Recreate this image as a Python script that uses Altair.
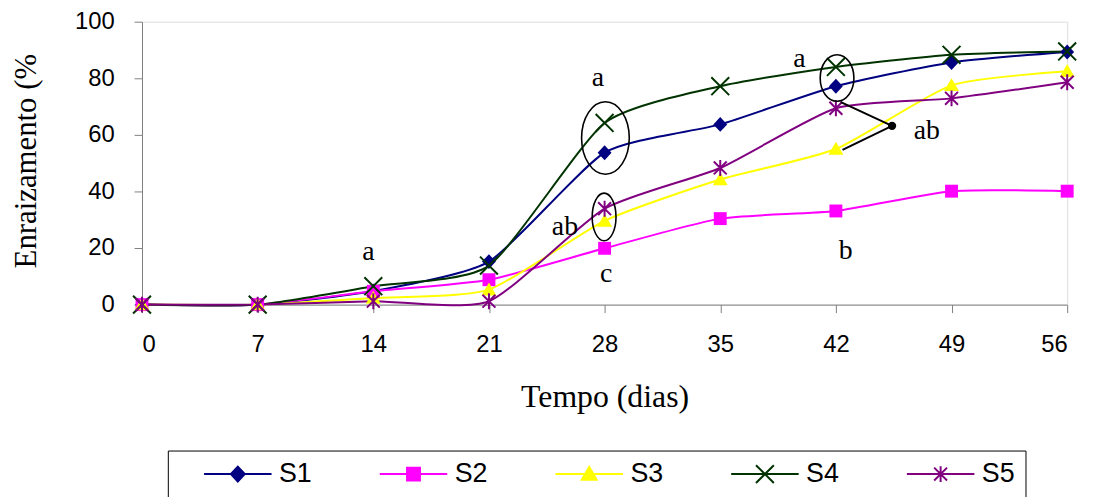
import altair as alt
import pandas as pd

# ---------------- data ----------------
days = [0, 7, 14, 21, 28, 35, 42, 49, 56]
series = ["S1", "S2", "S3", "S4", "S5"]
s1 = [0, 0, 4.8, 15.2, 53.7, 63.7, 77.2, 85.6, 89.3]
s2 = [0, 0, 4.7, 8.8, 19.9, 30.4, 33.1, 40.1, 40.1]
s3 = [0, 0, 2.3, 5.3, 29.6, 44.2, 55.0, 77.5, 82.5]
s4 = [0, 0, 6.5, 13.8, 64.2, 77.2, 84.0, 88.3, 89.5]
s5 = [0, 0, 1.2, 1.2, 33.9, 48.3, 69.4, 72.9, 78.6]
colors = ["#000080", "#FF00FF", "#FFFF00", "#003300", "#800080"]

# annotation letters
ann_text = ["a", "a", "ab", "c", "a", "ab", "b"]
ann_x = [13.7, 27.6, 25.6, 28.1, 39.8, 47.5, 42.6]
ann_y = [18.7, 80.0, 27.4, 10.9, 86.7, 61.4, 19.0]

# ellipse annotations (centres in data units)
ell_x = [28.05, 27.97, 42.07]
ell_y = [58.9, 31.0, 80.1]

# connector lines from the dot
con_x = [42.3, 42.4]
con_y = [71.6, 54.7]
dot_x = [45.4]
dot_y = [63.2]

# ---------------- tables ----------------
vals = [s1, s2, s3, s4, s5]
df = pd.DataFrame(
    [{"dia": d, "valor": v, "serie": s} for s, col in zip(series, vals) for d, v in zip(days, col)]
)
ann_df = pd.DataFrame({"dia": ann_x, "valor": ann_y, "txt": ann_text})
con_df = pd.DataFrame({"dia": dot_x * len(con_x), "valor": dot_y * len(con_x), "dia2": con_x, "valor2": con_y})
dot_df = pd.DataFrame({"dia": dot_x, "valor": dot_y})


def fmt(v):
    return f"{v:.3f}".rstrip("0").rstrip(".")


def path(subpaths, dx=0.0):
    out = []
    for sp, closed in subpaths:
        pts = " L ".join(f"{fmt(x + dx)} {fmt(y)}" for x, y in sp)
        out.append("M " + pts + (" Z" if closed else ""))
    return " ".join(out)


marker_defs = {
    "S1": [([(0, -0.75), (0.7, 0), (0, 0.75), (-0.7, 0)], True)],
    "S2": [([(-0.65, -0.65), (0.65, -0.65), (0.65, 0.65), (-0.65, 0.65)], True)],
    "S3": [([(0, -0.72), (0.75, 0.58), (-0.75, 0.58)], True)],
    "S4": [([(-0.9, -0.9), (0.9, 0.9)], False), ([(-0.9, 0.9), (0.9, -0.9)], False)],
    "S5": [([(-0.65, -0.65), (0.65, 0.65)], False), ([(-0.65, 0.65), (0.65, -0.65)], False),
           ([(0, -0.8), (0, 0.8)], False)],
}
filled_marker = {"S1": True, "S2": True, "S3": True, "S4": False, "S5": False}

LEG_DX = 4.7
legend_paths = [
    "M 1.3 0 L 8.1 0 " + path(marker_defs[s], LEG_DX) for s in series
]


def ellipse_path(w, h):
    rx = w / h
    k = 0.5523
    return (
        f"M 0 -1 C {fmt(k*rx)} -1 {fmt(rx)} {fmt(-k)} {fmt(rx)} 0 "
        f"C {fmt(rx)} {fmt(k)} {fmt(k*rx)} 1 0 1 "
        f"C {fmt(-k*rx)} 1 {fmt(-rx)} {fmt(k)} {fmt(-rx)} 0 "
        f"C {fmt(-rx)} {fmt(-k)} {fmt(-k*rx)} -1 0 -1 Z"
    )


ell_dims = [(48, 73), (24, 48), (34, 47)]

# ---------------- encodings ----------------
xscale = alt.Scale(domain=[0, 56], nice=False, zero=False)
yscale = alt.Scale(domain=[0, 100], nice=False)
xaxis = alt.Axis(
    values=days, title="Tempo (dias)", grid=False, tickSize=8, labelPadding=20,
    labelFont="Liberation Sans", labelFontSize=24, labelColor="black",
    domainColor="#808080", tickColor="#808080",
    titleFont="Liberation Serif", titleFontSize=32, titleFontWeight="normal", titleColor="black",
    titleY=103, titleBaseline="alphabetic",
)
yaxis = alt.Axis(
    values=[0, 20, 40, 60, 80, 100], title="Enraizamento (%", grid=False, tickSize=8, labelPadding=20,
    labelFont="Liberation Sans", labelFontSize=24, labelColor="black",
    domainColor="#808080", tickColor="#808080",
    titleFont="Liberation Serif", titleFontSize=31, titleFontWeight="normal", titleColor="black",
    titleX=-107, titleY=140, titleAngle=270, titleAlign="center", titleBaseline="alphabetic",
)


def X(f="dia"):
    return alt.X(f"{f}:Q", scale=xscale, axis=xaxis)


def Y(f="valor"):
    return alt.Y(f"{f}:Q", scale=yscale, axis=yaxis)


line_layers = []
marker_layers = []
for s, c in zip(series, colors):
    line_layers.append(
        alt.Chart(df).mark_line(interpolate="cardinal", tension=0.4, strokeWidth=2, color=c)
        .encode(x=X(), y=Y(), order=alt.Order("dia:Q"))
        .transform_filter(alt.datum.serie == s)
    )
    if filled_marker[s]:
        mk = alt.Chart(df).mark_point(shape=path(marker_defs[s]), size=400, filled=True,
                                      color=c, opacity=1)
    else:
        mk = alt.Chart(df).mark_point(shape=path(marker_defs[s]), size=400, filled=False,
                                      color=c, strokeWidth=2, opacity=1)
    marker_layers.append(
        mk.encode(x=X(), y=Y()).transform_filter(alt.datum.serie == s)
    )

leg = alt.Legend(
    title=None, orient="none", legendX=26, legendY=432, direction="horizontal", columns=5,
    columnPadding=41, labelOffset=75, labelFont="Liberation Sans", labelFontSize=27,
    labelColor="black", padding=10, strokeColor="black", symbolSize=400,
    symbolStrokeWidth=2, symbolOpacity=1,
)
legend_layer = alt.Chart(df).mark_point(
    filled=True, size=400, strokeWidth=2, opacity=0
).encode(
    x=X(), y=Y(),
    fill=alt.Fill("serie:N", scale=alt.Scale(domain=series, range=colors), legend=leg),
    stroke=alt.Stroke("serie:N", scale=alt.Scale(domain=series, range=colors), legend=leg),
    shape=alt.Shape("serie:N", scale=alt.Scale(domain=series, range=legend_paths), legend=leg),
)

ellipse_layers = []
for ex, ey, (w, h) in zip(ell_x, ell_y, ell_dims):
    edf = pd.DataFrame({"dia": [ex], "valor": [ey]})
    ellipse_layers.append(
        alt.Chart(edf).mark_point(shape=ellipse_path(w, h), size=h * h, filled=False,
                                  stroke="black", strokeWidth=1.6, opacity=1)
        .encode(x=X(), y=Y())
    )

connectors = alt.Chart(con_df).mark_rule(color="black", strokeWidth=2).encode(
    x=X(), y=Y(), x2="dia2:Q", y2="valor2:Q"
)
dot = alt.Chart(dot_df).mark_point(filled=True, color="black", size=70, opacity=1, shape="circle").encode(
    x=X(), y=Y()
)
texts = alt.Chart(ann_df).mark_text(
    font="Liberation Serif", fontSize=28, color="black", baseline="middle", align="center"
).encode(x=X(), y=Y(), text="txt:N")

chart = alt.layer(
    *line_layers, *marker_layers, legend_layer, *ellipse_layers, connectors, dot, texts
).properties(
    width=932, height=285,
    autosize=alt.AutoSizeParams(type="none"),
    padding={"left": 135, "top": 12, "right": 25, "bottom": 192},
).configure_view(strokeWidth=0).configure(background="white")

chart.save("out.html", embed_options={"renderer": "svg", "actions": False})
